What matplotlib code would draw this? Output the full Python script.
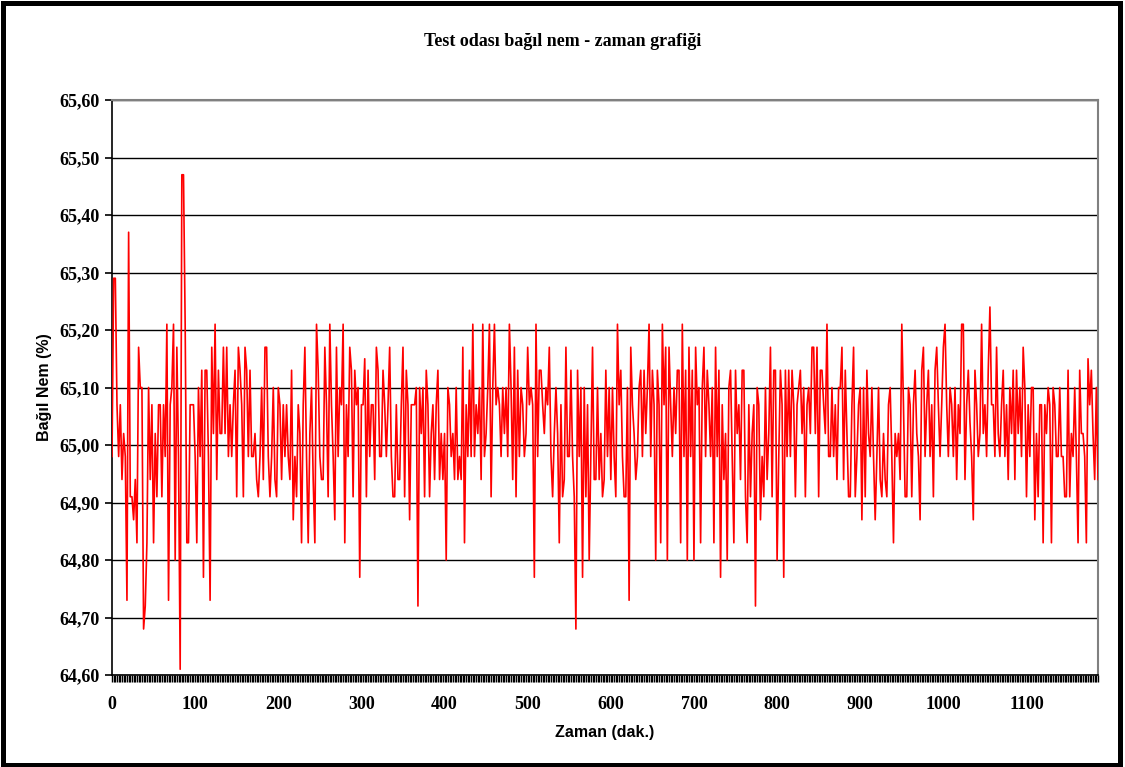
import numpy as np
import matplotlib
matplotlib.use("Agg")
import matplotlib.pyplot as plt
from matplotlib.ticker import MultipleLocator, FuncFormatter
from matplotlib.patches import Rectangle

# bagil nem olcumleri (%), 2 dakikada bir okuma
nem_1 = [64.98, 65.29, 65.29, 65.07, 64.98, 65.07, 64.94, 65.02, 64.98, 64.73,
         65.37, 64.91, 64.91, 64.87, 64.94, 64.83, 65.17, 65.10, 65.10, 64.68,
         64.72, 64.83, 65.10, 64.94, 65.07, 64.83, 65.02, 64.91, 65.07, 65.07,
         64.91, 65.07, 64.98, 65.21, 64.73, 65.07, 65.10, 65.21, 64.80, 65.17,
         64.98, 64.61, 65.47, 65.47, 65.21, 64.83, 64.83, 65.07, 65.07, 65.07,
         64.98, 64.83, 65.10, 64.98, 65.13, 64.77, 65.13, 65.13, 64.98, 64.73,
         65.17, 65.02, 65.21, 64.94, 65.13, 65.02, 65.02, 65.17, 65.02, 65.17,
         64.98, 65.07, 64.98, 65.07, 65.13, 64.91, 65.17, 65.13, 65.07, 64.91,
         65.17, 65.13, 64.98, 65.13, 64.98]
nem_2 = [64.98, 65.02, 64.94, 64.91, 64.98, 65.10, 64.94, 65.17, 65.17, 64.98,
         64.91, 64.98, 65.10, 64.94, 64.91, 65.10, 65.07, 64.94, 65.07, 64.98,
         65.07, 64.98, 64.94, 65.13, 64.87, 64.98, 64.91, 65.07, 65.02, 64.83,
         65.07, 65.17, 64.98, 64.83, 65.02, 65.10, 64.94, 64.83, 65.21, 65.13,
         64.98, 64.94, 64.94, 65.17, 65.07, 64.91, 65.21, 65.07, 64.98, 64.87,
         65.17, 64.98, 65.10, 65.07, 65.21, 64.83, 65.07, 64.98, 65.17, 65.13,
         64.91, 65.13, 65.07, 65.10, 64.77, 65.07, 65.07, 65.15, 64.91, 65.13,
         64.98, 65.07, 65.07, 64.94, 65.17, 65.13, 64.98, 64.98, 65.13, 65.07,
         64.98, 65.07, 65.17, 64.98, 64.91]
nem_3 = [64.91, 65.07, 64.94, 64.94, 65.07, 65.17, 64.91, 65.13, 65.07, 64.87,
         65.07, 65.07, 65.07, 65.10, 64.72, 65.10, 65.02, 65.10, 64.91, 65.13,
         65.07, 64.91, 65.02, 65.07, 64.94, 65.07, 65.13, 64.94, 65.02, 64.94,
         65.02, 64.80, 65.10, 65.07, 64.98, 65.02, 64.94, 65.10, 64.94, 64.98,
         64.94, 65.17, 64.83, 65.07, 64.98, 65.13, 64.98, 65.21, 64.98, 65.07,
         65.02, 65.10, 64.94, 65.21, 64.98, 65.02, 65.10, 65.21, 64.91, 65.10,
         65.21, 65.07, 65.10, 65.07, 64.98, 65.10, 65.02, 65.10, 64.98, 65.21,
         65.10, 64.94, 65.17, 64.91, 65.13, 64.98, 65.10, 65.07, 64.98, 65.02,
         65.17, 65.07, 65.10, 65.07, 64.77, 65.21]
nem_4 = [64.98, 65.13, 65.13, 65.07, 65.02, 65.10, 65.07, 65.17, 64.98, 64.91,
         65.02, 65.10, 65.02, 64.83, 65.07, 64.91, 64.94, 65.17, 64.98, 64.98,
         65.13, 64.98, 64.91, 64.68, 65.13, 64.98, 65.10, 64.77, 65.10, 64.91,
         65.07, 64.80, 64.98, 65.17, 64.94, 64.94, 65.10, 64.94, 65.02, 64.91,
         64.94, 65.13, 64.98, 65.10, 64.94, 65.10, 64.98, 64.91, 65.21, 65.07,
         65.13, 64.98, 64.91, 64.91, 65.10, 64.73, 65.17, 65.07, 65.02, 64.94,
         64.98, 65.10, 65.13, 64.98, 65.13, 65.02, 65.10, 65.21, 64.98, 65.13,
         65.07, 64.80, 65.13, 65.07, 64.83, 65.21, 65.07, 65.17, 64.80, 65.17,
         65.07, 64.98, 65.10, 65.02, 65.13]
nem_5 = [65.13, 64.83, 65.21, 64.98, 65.13, 64.80, 65.17, 64.98, 65.13, 64.80,
         65.17, 65.07, 65.10, 64.83, 65.10, 65.17, 64.98, 65.13, 65.07, 64.98,
         65.10, 64.83, 65.17, 64.98, 65.13, 64.77, 65.07, 64.94, 65.02, 64.80,
         65.10, 65.13, 64.98, 64.83, 65.13, 65.02, 65.07, 64.94, 65.13, 65.13,
         64.91, 64.83, 65.07, 64.91, 65.02, 65.07, 64.72, 65.10, 65.07, 64.87,
         64.98, 64.91, 65.10, 64.94, 65.02, 65.17, 64.91, 65.13, 65.13, 64.80,
         64.98, 65.13, 65.07, 64.77, 65.13, 64.98, 65.13, 64.98, 65.13, 65.07,
         64.91, 65.07, 65.10, 65.13, 65.02, 65.10, 64.91, 65.07, 65.10, 65.02,
         65.17, 65.17, 65.02, 65.17, 64.91, 65.13]
nem_6 = [65.13, 65.07, 65.02, 65.21, 64.98, 64.98, 65.10, 64.98, 65.07, 64.94,
         65.10, 65.10, 65.17, 64.94, 65.13, 65.02, 64.91, 64.91, 65.07, 65.17,
         64.91, 64.98, 65.07, 65.10, 64.87, 65.10, 64.91, 65.13, 65.02, 64.98,
         65.10, 64.98, 64.87, 64.98, 65.10, 64.94, 64.91, 65.02, 64.94, 64.91,
         65.07, 65.10, 64.98, 64.83, 65.02, 64.98, 65.02, 64.94, 65.21, 65.07,
         64.91, 64.91, 65.10, 65.07, 64.91, 65.07, 65.13, 65.02, 64.98, 64.87,
         65.13, 65.17, 64.98, 65.07, 65.13, 64.98, 65.07, 64.91, 65.13, 65.17,
         65.07, 64.98, 65.07, 65.17, 65.21, 65.07, 64.98, 65.10, 65.07, 64.98,
         65.10, 64.94, 65.07, 65.02, 65.21]
nem_7 = [65.21, 64.94, 65.07, 65.13, 65.04, 64.98, 64.87, 65.13, 65.07, 64.98,
         65.02, 65.21, 65.02, 65.07, 64.98, 65.13, 65.24, 65.07, 65.07, 64.98,
         65.17, 65.02, 64.98, 65.07, 65.13, 64.98, 65.07, 64.94, 65.10, 65.02,
         65.13, 64.94, 65.13, 65.02, 65.10, 64.98, 65.17, 65.10, 64.91, 65.07,
         64.98, 65.10, 65.10, 64.87, 65.02, 64.91, 65.07, 65.07, 64.83, 65.07,
         65.02, 65.10, 65.07, 64.83, 65.10, 65.07, 64.98, 64.98, 65.10, 64.98,
         64.98, 64.91, 64.91, 65.13, 64.91, 65.02, 64.98, 65.10, 64.98, 64.83,
         65.13, 65.02, 65.02, 64.98, 64.83, 65.15, 65.07, 65.13, 65.02, 64.94,
         65.10, 64.94]

nem = np.array(nem_1 + nem_2 + nem_3 + nem_4 + nem_5 + nem_6 + nem_7)
zaman = np.arange(len(nem)) * 2

y_ticks = [64.60, 64.70, 64.80, 64.90, 65.00, 65.10, 65.20, 65.30, 65.40, 65.50, 65.60]
x_ticks = [0, 100, 200, 300, 400, 500, 600, 700, 800, 900, 1000, 1100]

serif = ["Liberation Serif", "DejaVu Serif"]
sans = ["Liberation Sans", "DejaVu Sans"]

fig = plt.figure(figsize=(11.25, 7.67), dpi=100)
ax = fig.add_axes([112 / 1125, 1 - 675 / 767, 986 / 1125, 575 / 767])

for v in y_ticks:
    ax.axhline(v, color="black", lw=1.0, zorder=1)

ax.plot(zaman, nem, color="#ff0000", lw=1.2, zorder=3)

ax.set_xlim(0, zaman[-1])
ax.set_ylim(64.60, 65.60)
ax.set_yticks(y_ticks)
ax.set_xticks(x_ticks)
ax.xaxis.set_minor_locator(MultipleLocator(2))
ax.yaxis.set_major_formatter(FuncFormatter(lambda v, p: f"{v:.2f}".replace(".", ",")))

ax.tick_params(axis="y", direction="out", length=5, width=1.2, color="black", pad=4)
ax.tick_params(axis="x", which="major", direction="out", length=5, width=1.0, pad=10)
ax.tick_params(axis="x", which="minor", direction="out", length=5, width=1.0)
for lab in ax.get_yticklabels() + ax.get_xticklabels():
    lab.set_fontfamily(serif)
    lab.set_fontweight("bold")
    lab.set_fontsize(13)

for side in ["top", "right"]:
    ax.spines[side].set_color("#808080")
    ax.spines[side].set_linewidth(1.5)
for side in ["left", "bottom"]:
    ax.spines[side].set_color("black")
    ax.spines[side].set_linewidth(1.2)

ax.set_xlabel("Zaman (dak.)", family=sans, fontweight="bold", fontsize=11.5, labelpad=9)
ax.set_ylabel("Bağıl Nem (%)", family=sans, fontweight="bold", fontsize=11.5, labelpad=5)
fig.text(0.5, 1 - 42 / 767, "Test odası bağıl nem - zaman grafiği", family=serif,
         fontweight="bold", fontsize=13, ha="center", va="center")

# dis cerceve
fig.patches.append(Rectangle((2.5 / 1125, 2.5 / 767), 1117 / 1125, 762 / 767,
                             transform=fig.transFigure, fill=False,
                             edgecolor="black", lw=3.6))

fig.savefig("out.png", dpi=100)
